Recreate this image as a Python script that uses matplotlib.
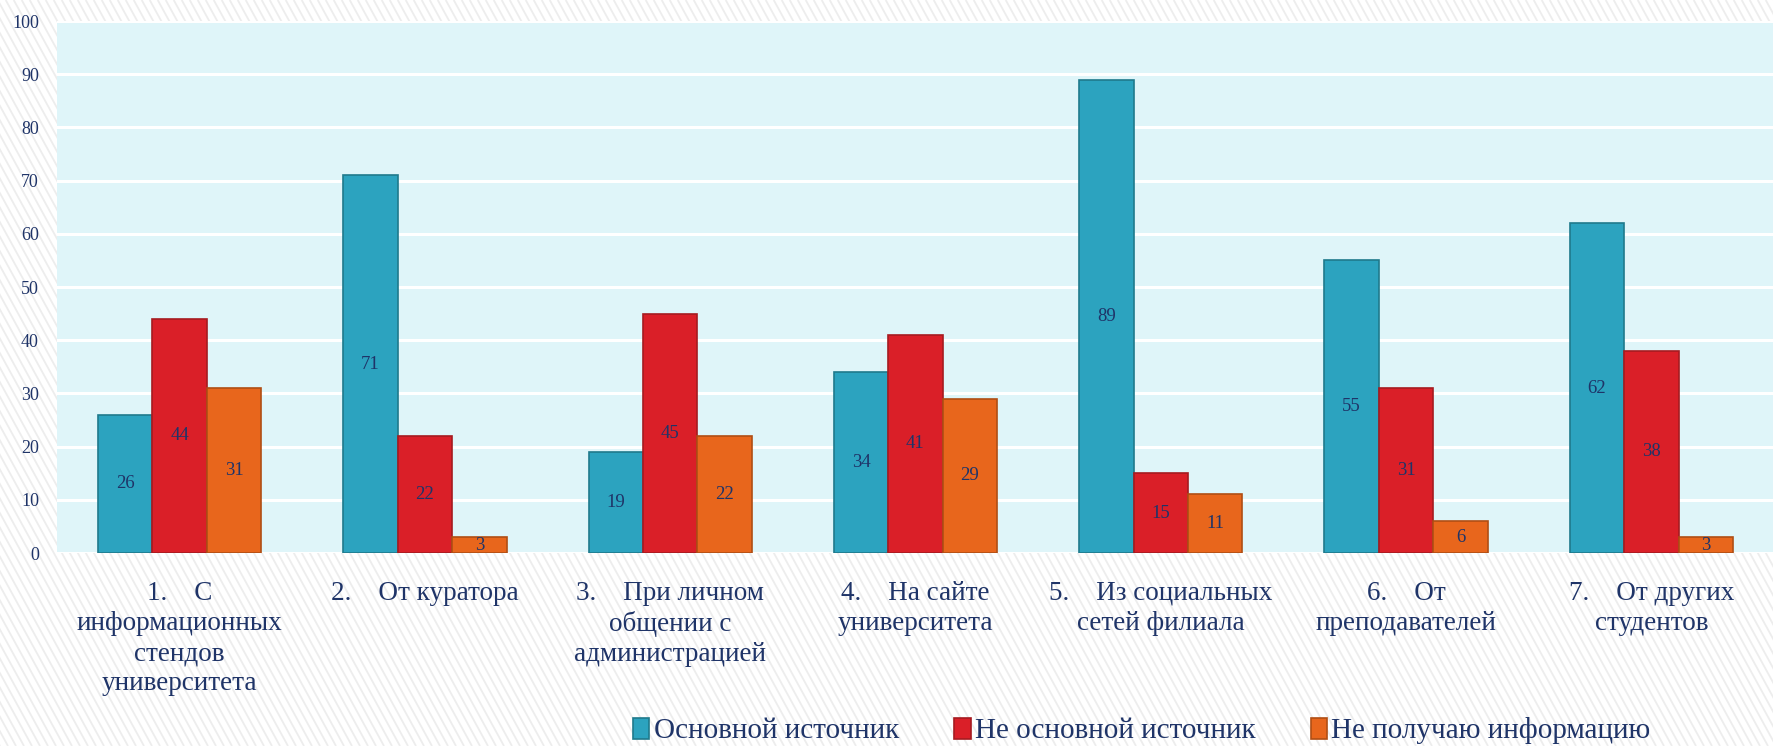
import numpy as np
import matplotlib
matplotlib.use("Agg")
import matplotlib.pyplot as plt
from matplotlib.patches import Patch
from matplotlib.collections import LineCollection
from matplotlib.transforms import IdentityTransform

categories = [
    "1.    С\nинформационных\nстендов\nуниверситета",
    "2.    От куратора",
    "3.    При личном\nобщении с\nадминистрацией",
    "4.    На сайте\nуниверситета",
    "5.    Из социальных\nсетей филиала",
    "6.    От\nпреподавателей",
    "7.    От других\nстудентов",
]
series_names = ["Основной источник", "Не основной источник", "Не получаю информацию"]
main_source = [26, 71, 19, 34, 89, 55, 62]
not_main_source = [44, 22, 45, 41, 15, 31, 38]
no_info = [31, 3, 22, 29, 11, 6, 3]

face_colors = ["#2CA3BF", "#DA1F28", "#E8661C"]
edge_colors = ["#1F7A8C", "#A61B20", "#B04E14"]
text_color = "#1F3468"

plt.rcParams["font.family"] = ["Liberation Serif", "DejaVu Serif"]

W, H = 1774, 746
fig = plt.figure(figsize=(W / 100, H / 100), dpi=100)
fig.patch.set_facecolor("white")

# light diagonal stripes in the background
slant = 0.55
segs = [[(x0, H), (x0 + slant * H, 0)] for x0 in np.arange(-slant * H, W + 8, 8)]
fig.add_artist(LineCollection(segs, colors="#EDEDED", linewidths=1.3,
                              transform=IdentityTransform(), zorder=-5))

ax = fig.add_axes([57 / W, 1 - 553 / H, 1 - 57 / W, 532 / H])
ax.set_facecolor("#DFF5F9")

x = np.arange(len(categories))
w = 0.222
all_series = [main_source, not_main_source, no_info]
for i, vals in enumerate(all_series):
    bars = ax.bar(x + (i - 1) * w, vals, w, color=face_colors[i],
                  edgecolor=edge_colors[i], linewidth=1.2, zorder=3,
                  label=series_names[i])
    ax.bar_label(bars, label_type="center", color=text_color, fontsize=13.5)

ax.set_ylim(0, 100)
ax.set_xlim(-0.5, len(categories) - 0.5)
ax.set_yticks(range(0, 101, 10))
ax.yaxis.grid(True, color="white", linewidth=2.2, zorder=0)
ax.set_axisbelow(True)
for s in ax.spines.values():
    s.set_visible(False)
ax.tick_params(axis="both", length=0, colors=text_color)
ax.tick_params(axis="y", labelsize=13, pad=13)
ax.set_xticks(x)
ax.set_xticklabels(categories, fontsize=19.5, linespacing=1.27, va="top")
ax.tick_params(axis="x", pad=20)

handles = [Patch(facecolor=face_colors[i], edgecolor=edge_colors[i], linewidth=1.2)
           for i in range(3)]
fig.legend(handles, series_names, loc="center", bbox_to_anchor=(1142 / W, 1 - 731 / H),
           ncol=3, frameon=False, fontsize=21, labelcolor=text_color,
           handlelength=0.55, handleheight=0.7, handletextpad=0.15, columnspacing=1.9)

fig.savefig("out.png", dpi=100)
